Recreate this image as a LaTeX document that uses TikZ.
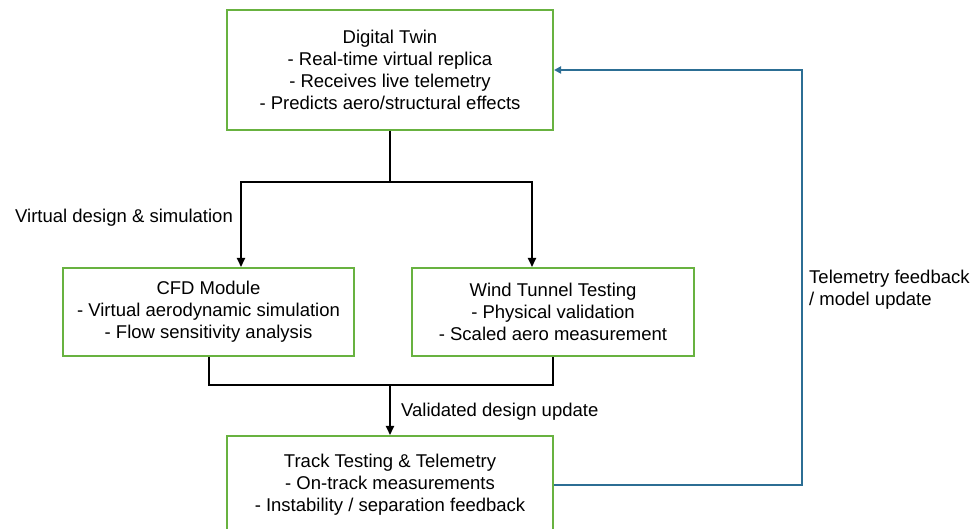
\documentclass[tikz,border=0pt]{standalone}
\usepackage{fontspec}
\setmainfont{Liberation Sans}
\usetikzlibrary{arrows.meta}
\definecolor{boxgreen}{RGB}{104,178,64}
\definecolor{fbblue}{RGB}{44,110,148}
\begin{document}
\begin{tikzpicture}[x=1pt,y=1pt,
  box/.style={draw=boxgreen,line width=2pt,fill=white,rectangle,align=center,inner sep=0pt,font=\fontsize{18.5}{22}\selectfont},
  conn/.style={draw=black,line width=2pt},
  arr/.style={conn,-{Triangle[length=9pt,width=8pt]}},
  fb/.style={draw=fbblue,line width=2pt,-{Triangle[length=7pt,width=7pt]}},
  lbl/.style={font=\fontsize{18.5}{22}\selectfont,inner sep=0pt,anchor=west,align=left}]
\useasboundingbox (0,0) rectangle (978,528);
\fill[white] (0,0) rectangle (978,528);
\node[box,minimum width=326pt,minimum height=120pt] (top) at (390,458)
  {Digital Twin\\- Real-time virtual replica\\- Receives live telemetry\\- Predicts aero/structural effects};
\node[box,minimum width=291pt,minimum height=88pt] (cfd) at (208.5,216)
  {CFD Module\\- Virtual aerodynamic simulation\\- Flow sensitivity analysis};
\node[box,minimum width=282pt,minimum height=88pt] (wind) at (553,216)
  {Wind Tunnel Testing\\- Physical validation\\- Scaled aero measurement};
\node[box,minimum width=326pt,minimum height=98pt] (track) at (390,43)
  {Track Testing \& Telemetry\\- On-track measurements\\- Instability / separation feedback};
\coordinate (br) at (390,346);
\coordinate (mg) at (390,143);
\coordinate (fbx) at (802,250);
\draw[conn] (top.south) -- (br);
\draw[arr] (br) -| ([xshift=32.5pt]cfd.north);
\draw[arr] (br) -| ([xshift=-21pt]wind.north);
\draw[conn] (cfd.south) |- (mg) -| (wind.south);
\draw[arr] (mg) -- (track.north);
\draw[fb] (track.east) -| (fbx) |- (top.east);
\node[lbl] (l1) at (15,310) {Virtual design \& simulation};
\node[lbl] (l2) at (401,116) {Validated design update};
\node[lbl] (l3) at (809,238) {Telemetry feedback\\/ model update};
\end{tikzpicture}
\end{document}
